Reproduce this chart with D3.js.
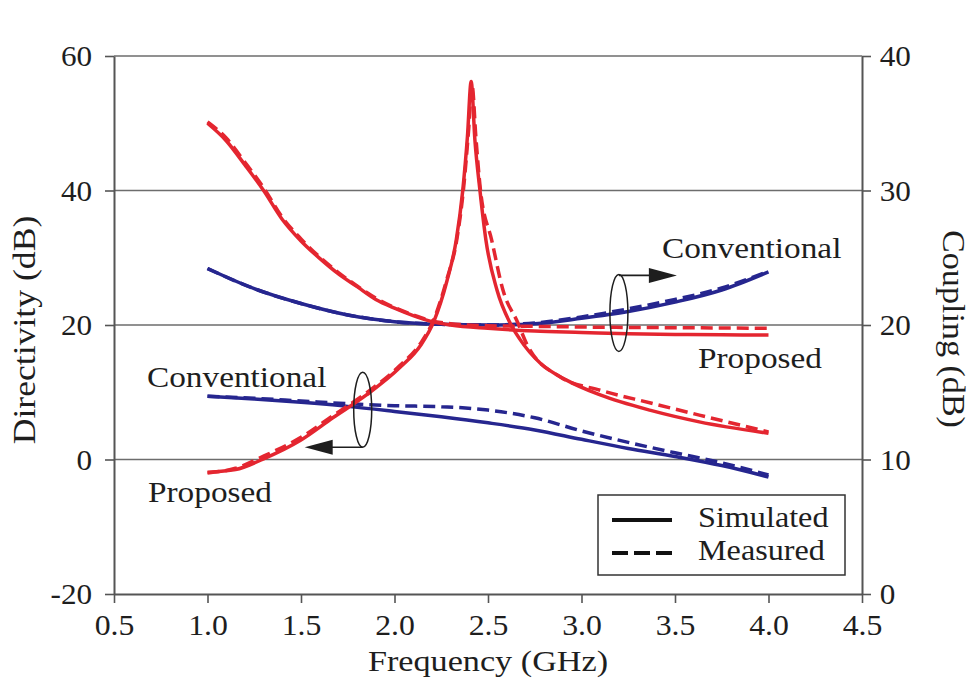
<!DOCTYPE html>
<html>
<head>
<meta charset="utf-8">
<script src="https://cdn.jsdelivr.net/npm/d3@7"></script>
<style>
  html, body { margin: 0; padding: 0; background: #fff; }
  svg { display: block; }
  text { font-family: "Liberation Serif", "Times New Roman", serif; fill: #1e1e1e; }
</style>
</head>
<body>
<svg id="chart" width="976" height="686"></svg>
<script>
// ---- axis ticks ----
const freqTicks = [0.5, 1.0, 1.5, 2.0, 2.5, 3.0, 3.5, 4.0, 4.5];
const directivityTicks = [-20, 0, 20, 40, 60];
const couplingTicks = [0, 10, 20, 30, 40];

// ---- directivity (dB), left axis ----
const dirPropSimF = [1.0, 1.15, 1.3, 1.5, 1.67, 1.85, 2.03, 2.14, 2.21, 2.28, 2.33, 2.365, 2.39, 2.41, 2.43, 2.457, 2.489, 2.548, 2.618, 2.67, 2.78, 2.92, 3.1, 3.37, 3.63, 4.0];
const dirPropSimV = [-1.9, -1.5, 0.1, 2.9, 6.2, 9.6, 13.7, 17.0, 20.5, 26.5, 32.6, 40.0, 48.0, 56.2, 47.5, 40.0, 32.6, 25.2, 20.3, 17.9, 14.3, 11.8, 9.6, 7.3, 5.6, 3.9];

const dirPropMeasF = [1.0, 1.15, 1.3, 1.5, 1.67, 1.85, 2.03, 2.14, 2.21, 2.28, 2.335, 2.37, 2.395, 2.415, 2.435, 2.46, 2.52, 2.58, 2.66, 2.71, 2.885, 3.1, 3.37, 3.63, 4.0];
const dirPropMeasV = [-2.0, -1.3, 0.5, 3.3, 6.5, 9.9, 14.0, 17.3, 20.8, 26.8, 33.0, 40.5, 48.5, 55.6, 48.0, 40.0, 32.6, 25.2, 20.3, 17.0, 12.3, 10.3, 8.4, 6.6, 4.1];

const dirConvSimF = [1.0, 1.25, 1.5, 1.75, 2.0, 2.25, 2.5, 2.75, 3.0, 3.25, 3.5, 3.75, 4.0];
const dirConvSimV = [9.4, 9.0, 8.5, 7.9, 7.15, 6.35, 5.45, 4.4, 3.0, 1.65, 0.45, -0.9, -2.6];
const dirConvMeasF = [1.0, 1.25, 1.5, 1.75, 2.0, 2.25, 2.5, 2.75, 3.0, 3.25, 3.5, 3.75, 4.0];
const dirConvMeasV = [9.4, 9.1, 8.7, 8.3, 8.0, 7.85, 7.35, 6.2, 4.25, 2.55, 1.0, -0.5, -2.3];

// ---- coupling (dB), right axis ----
const coupPropSimF = [1.0, 1.1, 1.2, 1.3, 1.4, 1.5, 1.6, 1.7, 1.8, 1.9, 2.0, 2.1, 2.2, 2.3, 2.5, 2.75, 3.0, 3.25, 3.5, 3.75, 4.0];
const coupPropSimV = [35.0, 33.7, 31.9, 30.0, 27.85, 26.25, 24.95, 23.8, 22.85, 21.9, 21.25, 20.7, 20.25, 20.0, 19.75, 19.55, 19.45, 19.35, 19.3, 19.27, 19.25];
const coupPropMeasF = [1.0, 1.1, 1.2, 1.3, 1.4, 1.5, 1.6, 1.7, 1.8, 1.9, 2.0, 2.1, 2.2, 2.3, 2.5, 2.75, 3.0, 3.25, 3.5, 3.75, 4.0];
const coupPropMeasV = [35.1, 33.9, 32.1, 30.2, 28.0, 26.4, 25.05, 23.9, 22.9, 22.0, 21.3, 20.75, 20.3, 20.1, 19.95, 19.9, 19.85, 19.82, 19.8, 19.78, 19.75];

const coupConvSimF = [1.0, 1.25, 1.5, 1.75, 2.0, 2.25, 2.5, 2.75, 3.0, 3.25, 3.5, 3.75, 4.0];
const coupConvSimV = [24.2, 22.7, 21.6, 20.75, 20.25, 20.05, 20.0, 20.1, 20.5, 21.0, 21.7, 22.6, 23.95];
const coupConvMeasF = [1.0, 1.25, 1.5, 1.75, 2.0, 2.25, 2.5, 2.75, 3.0, 3.25, 3.5, 3.75, 4.0];
const coupConvMeasV = [24.2, 22.7, 21.6, 20.75, 20.25, 20.05, 20.0, 20.15, 20.6, 21.2, 21.9, 22.75, 24.0];

// ---- drawing ----
const RED = "#e42630";
const BLUE = "#26268f";
const AXIS = "#555";
const svg = d3.select("#chart");

const x = d3.scaleLinear().domain([0.5, 4.5]).range([114, 862]);
const yL = d3.scaleLinear().domain([-20, 60]).range([594, 56]);
const yR = d3.scaleLinear().domain([0, 40]).range([594, 56]);

// horizontal grid lines (including the top frame at 60 dB)
svg.append("g").selectAll("line")
  .data([0, 20, 40, 60])
  .join("line")
  .attr("x1", x(0.5)).attr("x2", x(4.5))
  .attr("y1", d => yL(d)).attr("y2", d => yL(d))
  .attr("stroke", "#6d6d6d").attr("stroke-width", 1.6);

function styleAxis(g, sx) {
  g.attr("font-family", null).attr("font-size", null);
  g.select(".domain").attr("stroke", AXIS).attr("stroke-width", 2);
  g.selectAll(".tick line").attr("stroke", AXIS).attr("stroke-width", 1.6);
  g.selectAll(".tick text")
    .attr("font-size", 30)
    .attr("fill", "#222")
    .attr("transform", `scale(${sx},1)`);
}

// plain hyphen for negative values, as in typeset figures
const intFmt = d => String(d);

const gLeft = svg.append("g")
  .attr("transform", `translate(${x(0.5)},0)`)
  .call(d3.axisLeft(yL).tickValues(directivityTicks).tickSize(9).tickPadding(12)
    .tickSizeOuter(0).tickFormat(intFmt));
styleAxis(gLeft, 1.04);

const gRight = svg.append("g")
  .attr("transform", `translate(${x(4.5)},0)`)
  .call(d3.axisRight(yR).tickValues(couplingTicks).tickSize(9).tickPadding(8)
    .tickSizeOuter(0).tickFormat(intFmt));
styleAxis(gRight, 1.04);

const gBottom = svg.append("g")
  .attr("transform", `translate(0,${yL(-20)})`)
  .call(d3.axisBottom(x).tickValues(freqTicks).tickSize(9).tickPadding(11)
    .tickSizeOuter(0).tickFormat(d3.format(".1f")));
styleAxis(gBottom, 1.06);

// ---- curves ----
const lineFor = yScale => d3.line()
  .x(d => x(d[0]))
  .y(d => yScale(d[1]))
  .curve(d3.curveMonotoneX);

const series = [
  { f: dirConvSimF,   v: dirConvSimV,   y: yL, color: BLUE, dash: null },
  { f: dirConvMeasF,  v: dirConvMeasV,  y: yL, color: BLUE, dash: "12,6" },
  { f: coupConvSimF,  v: coupConvSimV,  y: yR, color: BLUE, dash: null },
  { f: coupConvMeasF, v: coupConvMeasV, y: yR, color: BLUE, dash: "12,6" },
  { f: coupPropSimF,  v: coupPropSimV,  y: yR, color: RED,  dash: null },
  { f: coupPropMeasF, v: coupPropMeasV, y: yR, color: RED,  dash: "12,6" },
  { f: dirPropSimF,   v: dirPropSimV,   y: yL, color: RED,  dash: null },
  { f: dirPropMeasF,  v: dirPropMeasV,  y: yL, color: RED,  dash: "12,6" }
];

svg.append("g").selectAll("path")
  .data(series)
  .join("path")
  .attr("d", s => lineFor(s.y)(d3.zip(s.f, s.v)))
  .attr("fill", "none")
  .attr("stroke", s => s.color)
  .attr("stroke-width", 3.5)
  .attr("stroke-linejoin", "round")
  .attr("stroke-dasharray", s => s.dash);

// ---- text helper: Times-style text slightly widened along its direction ----
function label(txt, px, py, opts = {}) {
  const size = opts.size || 30;
  const sx = opts.sx || 1.11;
  const rot = opts.rotate || 0;
  return svg.append("text")
    .attr("transform", `translate(${px},${py}) rotate(${rot}) scale(${sx},1)`)
    .attr("font-size", size)
    .attr("text-anchor", opts.anchor || "start")
    .text(txt);
}

// axis titles
label("Frequency (GHz)", 488, 671, { anchor: "middle", sx: 1.14 });
label("Directivity (dB)", 35, 330, { anchor: "middle", rotate: -90, size: 31, sx: 1.15 });
label("Coupling (dB)", 943, 329, { anchor: "middle", rotate: 90, size: 31, sx: 1.1 });

// curve group labels
label("Conventional", 662, 258);
label("Proposed", 698, 368);
label("Conventional", 147, 387);
label("Proposed", 148, 502);

// ---- group markers: ellipse + arrow toward the relevant axis ----
function groupMarker(cx, cy, rx, ry, dir) {
  const g = svg.append("g").attr("stroke", "#1e1e1e").attr("fill", "none");
  g.append("ellipse")
    .attr("cx", cx).attr("cy", cy).attr("rx", rx).attr("ry", ry)
    .attr("stroke-width", 1.5);
  const ay = dir > 0 ? cy - ry + 1 : cy + ry;
  const base = cx + dir * 30;
  const tip = cx + dir * 58;
  g.append("line")
    .attr("x1", cx).attr("x2", base + dir * 2)
    .attr("y1", ay).attr("y2", ay)
    .attr("stroke-width", 1.6);
  g.append("path")
    .attr("d", `M${base},${ay - 7.5}L${tip},${ay}L${base},${ay + 7.5}Z`)
    .attr("fill", "#1e1e1e").attr("stroke", "none");
}
groupMarker(x(3.2), yL(21.8), 9, 38.5, +1);   // coupling curves -> right axis
groupMarker(x(1.83), yL(7.4), 9, 37.5, -1);   // directivity curves -> left axis

// ---- legend ----
const leg = svg.append("g");
leg.append("rect")
  .attr("x", 598).attr("y", 495).attr("width", 247).attr("height", 80)
  .attr("fill", "#fff").attr("stroke", "#333").attr("stroke-width", 1.5);
leg.append("line")
  .attr("x1", 612).attr("x2", 672).attr("y1", 520).attr("y2", 520)
  .attr("stroke", "#111").attr("stroke-width", 4);
leg.append("line")
  .attr("x1", 612).attr("x2", 672).attr("y1", 553).attr("y2", 553)
  .attr("stroke", "#111").attr("stroke-width", 4)
  .attr("stroke-dasharray", "16,6");
label("Simulated", 698, 527, { size: 29 });
label("Measured", 698, 560, { size: 29 });
</script>
</body>
</html>
